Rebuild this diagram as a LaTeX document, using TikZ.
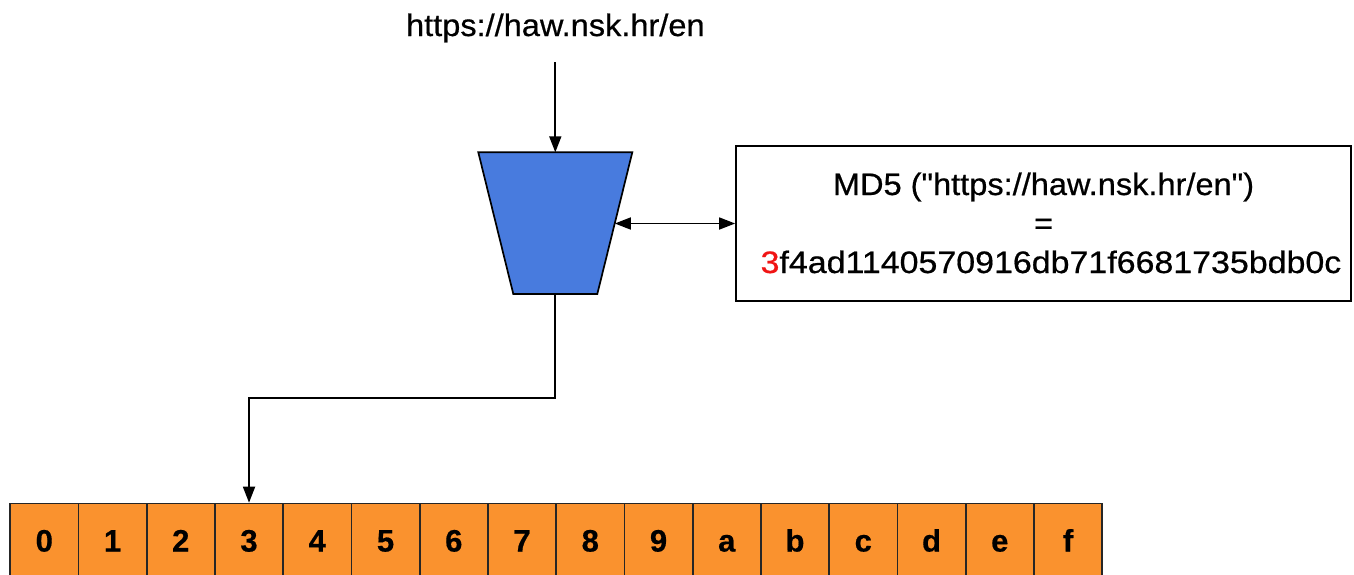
\documentclass[tikz,border=0pt]{standalone}
\usepackage{fontspec}
\setmainfont{Liberation Sans}
\newfontfamily\txtfont[FakeStretch=1.05,FakeBold=0.6]{Liberation Sans}
\newfontfamily\hashfont[FakeStretch=1.095,FakeBold=0.6]{Liberation Sans}
\newfontfamily\cellfont[BoldFeatures={FakeBold=0.5}]{Liberation Sans}
\usetikzlibrary{arrows.meta,calc}
\definecolor{fblue}{RGB}{72,123,222}
\definecolor{cellor}{RGB}{250,146,46}
\definecolor{hashred}{RGB}{240,20,20}
\begin{document}
\begin{tikzpicture}[x=1pt,y=-1pt,
  conn/.style={line width=1.7pt, draw=black},
  tipend/.style={-{Triangle[length=16pt,width=12pt]}},
  tipboth/.style={{Triangle[length=16pt,width=12pt]}-{Triangle[length=16pt,width=12pt]}},
  cellbox/.style={draw=black!85, line width=1.7pt, fill=cellor, minimum width=68.25pt,
    minimum height=80pt, inner sep=0pt, text height=16pt, text depth=0pt,
    font=\cellfont\bfseries\fontsize{31}{31}\selectfont, anchor=north west},
  txt/.style={anchor=base, inner sep=0pt, font=\txtfont\fontsize{31}{31}\selectfont},
  hashtxt/.style={anchor=base, inner sep=0pt, font=\hashfont\fontsize{31}{31}\selectfont},
  mdbox/.style={draw=black, line width=1.7pt, minimum width=615pt, minimum height=155pt, inner sep=0pt}
]
\useasboundingbox (0,0) rectangle (1354,574);

% URL title
\node[txt] (url) at (555.3,36) {https://haw.nsk.hr/en};
\coordinate (urlout) at (555.3,62);

% hash function (funnel)
\coordinate (ftl) at (478.3,152.3);
\coordinate (ftr) at (632.3,152.3);
\coordinate (fbr) at (597.3,294);
\coordinate (fbl) at (513.3,294);
\draw[fill=fblue, line width=1.7pt] (ftl) -- (ftr) -- (fbr) -- (fbl) -- cycle;
\coordinate (fin) at (555.3,152.3);
\coordinate (fout) at (555.3,294);
\coordinate (fside) at (614.8,223.5);

% MD5 box
\node[mdbox] (md5) at (1043.5,223.5) {};
\node[txt] (l1) at (1043.5,195) {MD5 ("https://haw.nsk.hr/en")};
\node[txt] (l2) at (1043.5,234) {=};
\node[hashtxt] (l3) at (1051,273) {\textcolor{hashred}{3}f4ad1140570916db71f6681735bdb0c};

% cells
\foreach \lab [count=\i from 0] in {0,1,2,3,4,5,6,7,8,9,a,b,c,d,e,f} {
  \node[cellbox] (c\i) at ({9.3+\i*68.25},502.7) {\lab};
}

% connectors
\draw[conn,tipend] (urlout) -- (fin);
\draw[conn,tipboth] (fside) -- (md5.west);
\draw[conn,tipend] (fout) -- ++(0,104) -| (c3.north);
\end{tikzpicture}
\end{document}
